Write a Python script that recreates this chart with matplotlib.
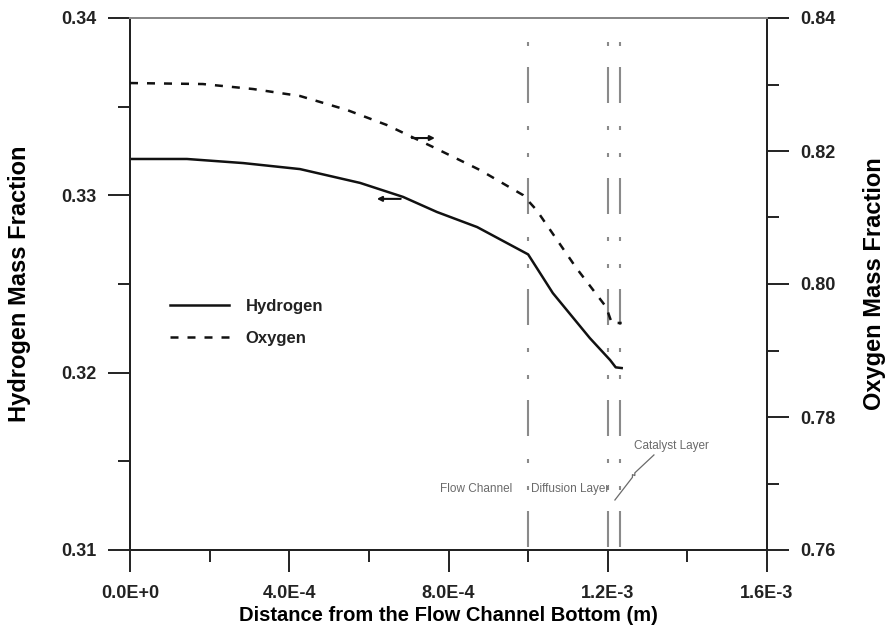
import matplotlib
matplotlib.use("Agg")
import matplotlib.pyplot as plt
from matplotlib.ticker import MultipleLocator

plt.rcParams['font.family'] = ['Liberation Sans', 'DejaVu Sans']
plt.rcParams['lines.scale_dashes'] = False

# Data
h_x = [0.0, 1.43e-4, 2.84e-4, 4.27e-4, 5.78e-4, 6.86e-4, 7.71e-4, 8.72e-4, 1.0e-3,
       1.062e-3, 1.155e-3, 1.206e-3, 1.22e-3, 1.235e-3]
h_y = [0.33205, 0.33205, 0.33182, 0.33148, 0.33070, 0.32991, 0.32906, 0.32821, 0.32667,
       0.32449, 0.32195, 0.32071, 0.32030, 0.32026]

o_x = [0.0, 1.83e-4, 3.09e-4, 4.27e-4, 5.45e-4, 6.45e-4, 7.61e-4, 8.79e-4, 9.87e-4,
       1.021e-3, 1.121e-3, 1.196e-3, 1.21e-3, 1.235e-3]
o_y = [0.83022, 0.83007, 0.82932, 0.82827, 0.82617, 0.82391, 0.82060, 0.81714, 0.81338,
       0.81113, 0.80241, 0.79654, 0.79414, 0.79414]

layer_x = [1.0e-3, 1.2e-3, 1.23e-3]
x_ticks = [0.0, 4e-4, 8e-4, 1.2e-3, 1.6e-3]
x_tick_labels = ["0.0E+0", "4.0E-4", "8.0E-4", "1.2E-3", "1.6E-3"]
left_ticks = [0.31, 0.32, 0.33, 0.34]
left_tick_labels = ["0.31", "0.32", "0.33", "0.34"]
right_ticks = [0.76, 0.78, 0.80, 0.82, 0.84]
right_tick_labels = ["0.76", "0.78", "0.80", "0.82", "0.84"]

fig = plt.figure(figsize=(8.96, 6.35), dpi=100)
ax = fig.add_axes([130/896, 1-550/635, (767-130)/896, (550-18)/635])
ax2 = ax.twinx()

ax.set_xlim(0, 1.6e-3)
ax.set_ylim(0.31, 0.34)
ax2.set_ylim(0.76, 0.84)

# vertical layer boundary lines
pt = 0.72
dash = (62*pt, (36*pt, 23*pt, 4*pt, 23*pt, 4*pt, 21*pt))
for xv in layer_x:
    ax.plot([xv, xv], [0.34, 0.31], color='#8a8a8a', lw=1.5, linestyle=dash, zorder=1)

lh, = ax.plot(h_x, h_y, color='#111111', lw=1.8, label='Hydrogen', zorder=3)
lo, = ax2.plot(o_x, o_y, color='#111111', lw=1.8, linestyle=(0, (8*pt, 9*pt)), label='Oxygen', zorder=3)

# arrows
ax.annotate('', xy=(6.2e-4, 0.3298), xytext=(6.8e-4, 0.3298),
            arrowprops=dict(arrowstyle='-|>', color='#111111', lw=1.5, mutation_scale=7,
                            shrinkA=0, shrinkB=0))
ax2.annotate('', xy=(7.66e-4, 0.82195), xytext=(7.08e-4, 0.82195),
             arrowprops=dict(arrowstyle='-|>', color='#111111', lw=1.5, mutation_scale=7,
                             shrinkA=0, shrinkB=0))

# layer annotations
ann_color = '#6a6a6a'
ax.text(9.6e-4, 0.31344, 'Flow Channel', fontsize=8.5, color=ann_color, ha='right', va='center')
ax.text(1.008e-3, 0.31344, 'Diffusion Layer', fontsize=8.5, color=ann_color, ha='left', va='center')
ax.text(1.265e-3, 0.31586, 'Catalyst Layer', fontsize=8.5, color=ann_color, ha='left', va='center')
ax.plot([1.218e-3, 1.262e-3, 1.262e-3, 1.268e-3, 1.268e-3, 1.316e-3],
        [0.31282, 0.31410, 0.31425, 0.31420, 0.31435, 0.31536], color=ann_color, lw=0.9)

# legend
leg = ax.legend(handles=[lh, lo], loc='upper left', bbox_to_anchor=(0.04, 0.5),
                frameon=False, handlelength=3.5, handletextpad=1.0,
                labelspacing=1.0, prop={'weight': 'bold', 'size': 12})
for t in leg.get_texts():
    t.set_color('#222222')

# ticks
ax.set_xticks(x_ticks)
ax.set_xticklabels(x_tick_labels)
ax.xaxis.set_minor_locator(MultipleLocator(2e-4))
ax.set_yticks(left_ticks)
ax.set_yticklabels(left_tick_labels)
ax.yaxis.set_minor_locator(MultipleLocator(0.005))
ax2.set_yticks(right_ticks)
ax2.set_yticklabels(right_tick_labels)
ax2.yaxis.set_minor_locator(MultipleLocator(0.01))

for a in (ax, ax2):
    a.tick_params(which='major', direction='out', length=16, width=1.4, labelsize=13, pad=8,
                  colors='#222222')
    a.tick_params(which='minor', direction='out', length=8.5, width=1.4, colors='#222222')
ax.tick_params(axis='x', which='major', pad=9)
for lab in ax.get_xticklabels() + ax.get_yticklabels() + ax2.get_yticklabels():
    lab.set_fontweight('bold')

for a in (ax, ax2):
    for s in a.spines.values():
        s.set_linewidth(1.4)
        s.set_color('#222222')
    a.spines['top'].set_color('#888888')

ax.set_xlabel('Distance from the Flow Channel Bottom (m)', fontsize=14.5, fontweight='bold', labelpad=3)
ax.set_ylabel('Hydrogen Mass Fraction', fontsize=17, fontweight='bold', labelpad=22)
ax2.set_ylabel('Oxygen Mass Fraction', fontsize=17, fontweight='bold', labelpad=20, rotation=90)

fig.savefig('out.png', dpi=100, facecolor='white')
